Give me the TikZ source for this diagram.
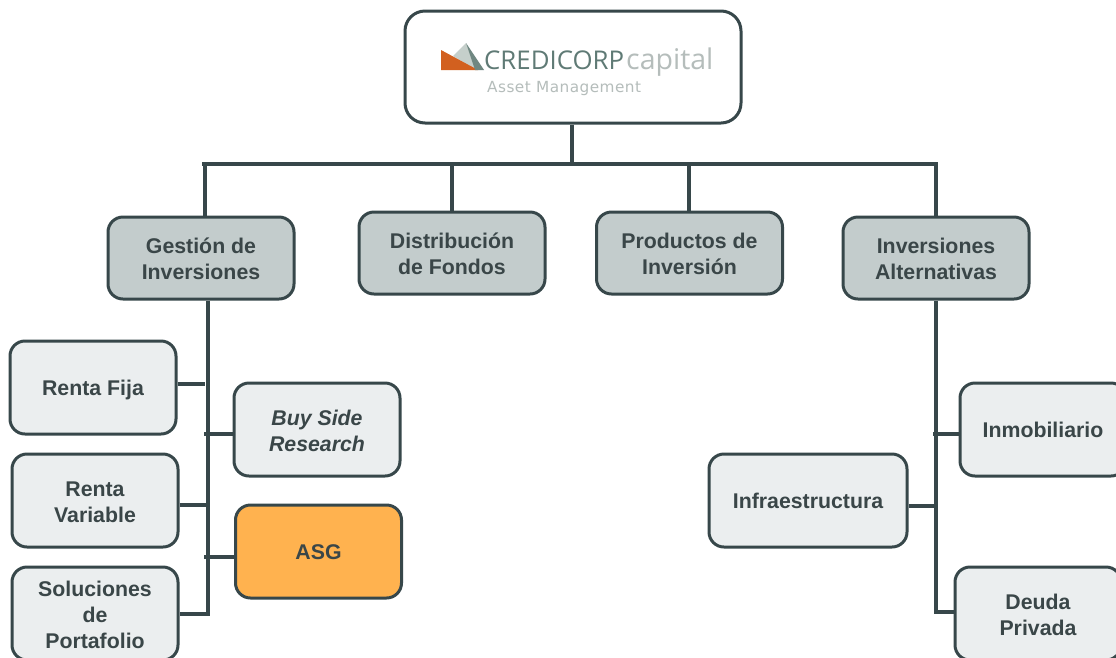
\documentclass[tikz,border=0pt]{standalone}
\usepackage{fontspec}
\setmainfont{Liberation Sans}
\newfontfamily\logospaced[LetterSpace=3]{DejaVu Sans}
\newfontfamily\logobrand{Open Sans}
\definecolor{ink}{HTML}{37474A}
\definecolor{txt}{HTML}{3A4648}
\definecolor{pale}{HTML}{EBEEEF}
\definecolor{head}{HTML}{C3CCCC}
\definecolor{hl}{HTML}{FFB24F}
\definecolor{logoorange}{HTML}{D2601F}
\definecolor{logolight}{HTML}{C5CFCB}
\definecolor{logodark}{HTML}{6F8781}
\definecolor{logotext}{HTML}{5F7A75}
\definecolor{logogrey}{HTML}{B5BDBB}
\newcommand\tx[2][-3.4pt]{\raisebox{#1}[\height][\depth]{\begin{tabular}{@{}c@{}}#2\end{tabular}}}
\begin{document}
\begin{tikzpicture}[x=1pt,y=-1pt,
  basebox/.style={draw=ink,line width=3pt,rounded corners=15pt,inner sep=0pt,
     font=\fontsize{21.3}{26}\selectfont\bfseries,text=txt},
  subbox/.style={basebox,fill=pale,minimum width=166pt,minimum height=93pt},
  headbox/.style={basebox,fill=head,minimum width=186pt,minimum height=82pt},
  wire/.style={draw=ink,line width=4pt},
  thin wire/.style={draw=ink,line width=3.5pt}]
\useasboundingbox (0,0) rectangle (1116,657);
\clip (0,0) rectangle (1116,657);
\fill[white] (0,0) rectangle (1116,657);
% top box and logo
\node[basebox,fill=white,minimum width=336pt,minimum height=112pt,rounded corners=20pt] (top) at (573,67) {};
\fill[logolight] (453,56) -- (466,43) -- (476,70) -- cycle;
\fill[logoorange] (441,50) -- (478,70) -- (441,70) -- cycle;
\fill[logodark] (466,43) -- (484,70) -- (475,70) -- cycle;
\node[anchor=base west,inner sep=0pt,text=logotext,font=\fontsize{25.8}{26}\logobrand] (brand) at (484,69) {CREDICORP};
\node[anchor=base west,inner sep=0pt,text=logogrey,font=\fontsize{28.5}{30}\logobrand] (cap) at (626,69) {capital};
\node[anchor=base west,inner sep=0pt,text=logogrey,font=\fontsize{15.3}{18}\logospaced] (am) at (487,92) {Asset Management};
% headers
\node[headbox] (gi) at (201,258) {\tx[-3pt]{Gestión de\\Inversiones}};
\node[headbox] (df) at (452,253) {\tx[-3pt]{Distribución\\de Fondos}};
\node[headbox] (pi) at (689.5,253) {\tx[-3pt]{Productos de\\Inversión}};
\node[headbox] (ia) at (936,258) {\tx[-3pt]{Inversiones\\Alternativas}};
% left children
\node[subbox] (rf) at (93,387.5) {\tx[-3pt]{Renta Fija}};
\node[subbox] (rv) at (95,500.5) {\tx{Renta\\Variable}};
\node[subbox] (sp) at (95,613.5) {\tx{Soluciones\\de\\Portafolio}};
\node[subbox] (bs) at (317,429.5) {\tx{\itshape Buy Side\\\itshape Research}};
\node[subbox,fill=hl] (asg) at (318.5,551.5) {\tx[-3pt]{ASG}};
% right children
\node[subbox,minimum width=198pt] (inf) at (808,500.5) {\tx[-3pt]{Infraestructura}};
\node[subbox] (inm) at (1043,429.5) {\tx[-3pt]{Inmobiliario}};
\node[subbox] (dp) at (1038,613.5) {\tx{Deuda\\Privada}};
% backbone
\coordinate (bus) at (572,164);
\coordinate (busL) at (202,164);
\coordinate (busR) at (938,164);
\coordinate (giT) at (205,164);
\coordinate (dfT) at (452,164);
\coordinate (piT) at (689,164);
\coordinate (iaT) at (936,164);
\draw[wire] (top.south -| bus) -- (bus);
\draw[wire] (busL) -- (busR);
\draw[wire] (giT) -- (giT |- gi.north);
\draw[wire] (dfT) -- (df.north);
\draw[wire] (piT) -- (piT |- pi.north);
\draw[wire] (iaT) -- (ia.north);
% left trunk
\coordinate (lt) at (208,614);
\coordinate (ltA) at (205,384);
\coordinate (ltB) at (204,434);
\coordinate (ltC) at (208,505);
\coordinate (ltD) at (204,557);
\draw[thin wire] (lt |- gi.south) -- (lt) -- (sp.east |- lt);
\draw[thin wire] (rf.east |- ltA) -- (ltA);
\draw[thin wire] (ltB) -- (bs.west |- ltB);
\draw[thin wire] (rv.east |- ltC) -- (ltC);
\draw[thin wire] (ltD) -- (asg.west |- ltD);
% right trunk
\coordinate (rt) at (936,612);
\coordinate (rtA) at (933,434);
\coordinate (rtB) at (936,506);
\draw[thin wire] (ia.south) -- (rt) -- (dp.west |- rt);
\draw[thin wire] (rtA) -- (inm.west |- rtA);
\draw[thin wire] (inf.east |- rtB) -- (rtB);
\end{tikzpicture}
\end{document}
